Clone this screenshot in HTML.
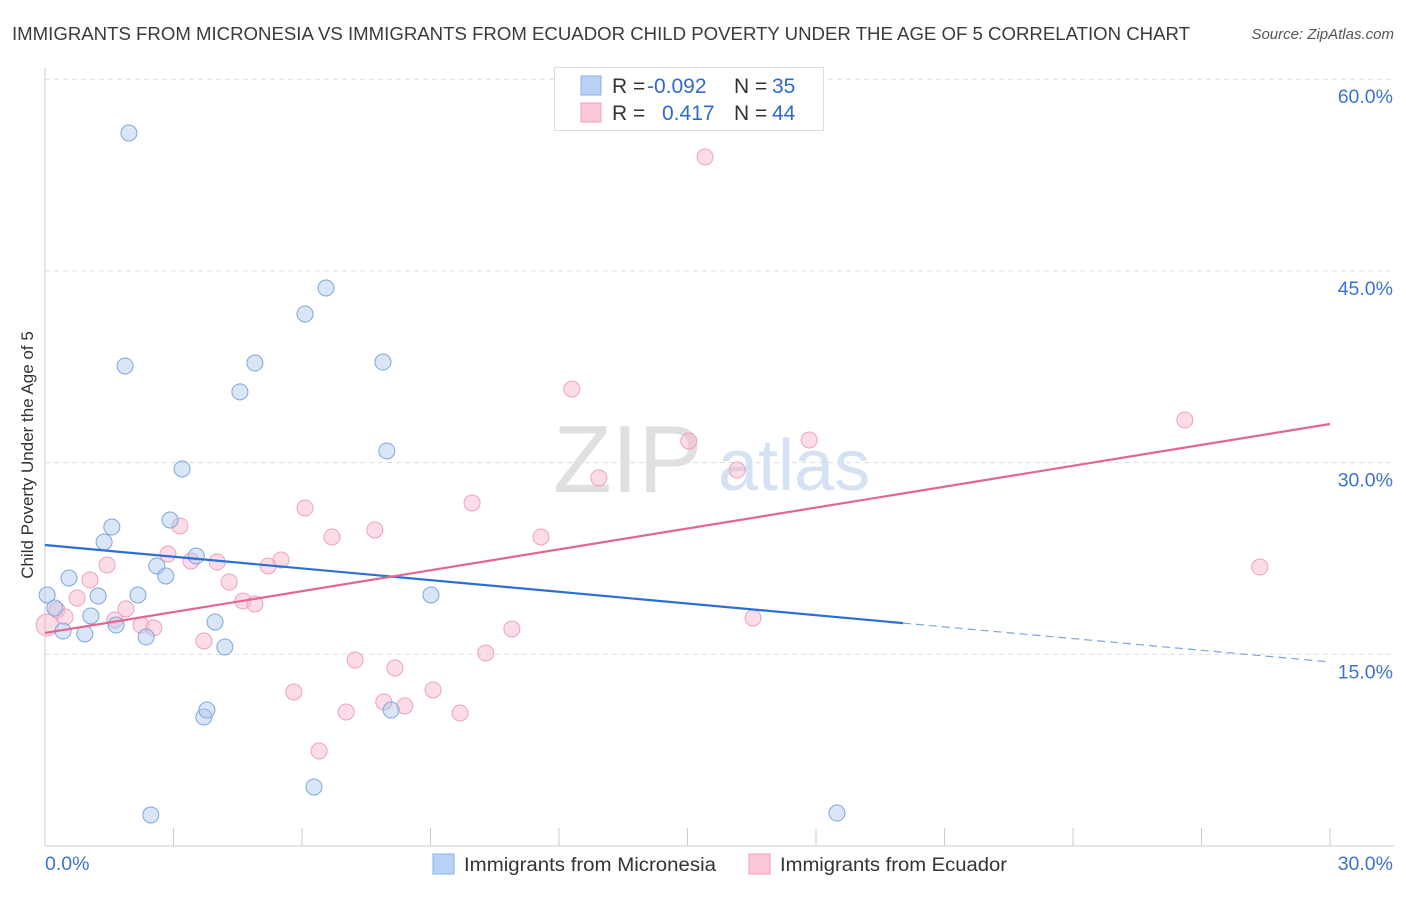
<!DOCTYPE html>
<html><head><meta charset="utf-8"><style>
body{margin:0;background:#fff;font-family:"Liberation Sans",sans-serif;}
svg text{font-family:"Liberation Sans",sans-serif;}
</style></head><body>
<svg id="chart" width="1406" height="892">
<text x="12" y="40" font-size="18" fill="#3a3a3a" textLength="1178" lengthAdjust="spacingAndGlyphs">IMMIGRANTS FROM MICRONESIA VS IMMIGRANTS FROM ECUADOR CHILD POVERTY UNDER THE AGE OF 5 CORRELATION CHART</text>
<text x="1394" y="39" font-size="15" fill="#555" text-anchor="end" font-style="italic">Source: ZipAtlas.com</text>
<text x="33" y="455" font-size="17" fill="#333" text-anchor="middle" transform="rotate(-90 33 455)">Child Poverty Under the Age of 5</text>
<g id="grid"></g>
<text x="553" y="492" font-size="96" fill="#e0e0e0" font-family="Liberation Serif">ZIP</text>
<text x="718" y="490" font-size="72" fill="#d4e2f4">atlas</text>
<g id="pts"></g>
<g id="lines"></g>
<g>
<rect x="554.5" y="67.5" width="269" height="63" fill="#fff" stroke="#ddd"/>
<rect x="581" y="76" width="20" height="19" fill="#b8d3f5" stroke="#8ab2e6"/>
<rect x="581" y="103" width="20" height="19" fill="#fcc8d7" stroke="#f0a0b8"/>
<text x="612" y="93" font-size="21" fill="#333">R = <tspan x="647" fill="#2d6bd0">-0.092</tspan><tspan x="734">N = </tspan><tspan x="772" fill="#2d6bd0">35</tspan></text>
<text x="612" y="120" font-size="21" fill="#333">R = <tspan x="662" fill="#2d6bd0">0.417</tspan><tspan x="734">N = </tspan><tspan x="772" fill="#2d6bd0">44</tspan></text>
</g>
<g>
<rect x="433" y="854" width="21" height="20" fill="#b8d3f5" stroke="#8ab2e6"/>
<text x="464" y="871" font-size="19" fill="#333" textLength="252" lengthAdjust="spacingAndGlyphs">Immigrants from Micronesia</text>
<rect x="749" y="854" width="21" height="20" fill="#fcc8d7" stroke="#f0a0b8"/>
<text x="780" y="871" font-size="19" fill="#333" textLength="227" lengthAdjust="spacingAndGlyphs">Immigrants from Ecuador</text>
</g>
</svg>
<script>
const xTicks=[0,30];
const yTicks=[15,30,45,60];
const blueX=[0.05,0.23,0.42,0.56,0.93,1.07,1.24,1.38,1.56,1.66,1.87,1.96,2.17,2.36,2.47,2.61,2.82,2.92,3.20,3.53,3.71,3.78,3.97,4.20,4.55,4.90,6.07,6.28,6.56,7.89,7.98,8.08,9.01,18.49];
const blueY=[19.64,18.62,16.82,20.97,16.59,18.0,19.56,23.79,24.96,17.29,37.56,55.79,19.64,16.35,2.43,21.91,21.13,25.51,29.50,22.69,10.09,10.64,17.53,15.57,35.53,37.79,41.63,4.62,43.66,37.87,30.91,10.64,19.64,2.58];
const pinkX=[0.05,0.28,0.47,0.75,1.05,1.45,1.63,1.89,2.24,2.54,2.87,3.15,3.41,3.71,4.02,4.30,4.62,4.90,5.21,5.51,5.81,6.07,6.40,6.70,7.03,7.24,7.70,7.91,8.17,8.40,9.06,9.69,9.97,10.29,10.90,11.58,12.30,12.93,15.03,15.41,16.16,16.53,17.84,26.61,28.36];
const pinkY=[17.29,18.47,17.92,19.41,20.81,21.99,17.68,18.55,17.29,17.06,22.85,25.04,22.30,16.04,22.22,20.66,19.17,18.94,21.91,22.38,12.05,26.45,7.43,24.18,10.49,14.55,24.73,11.27,13.93,10.96,12.21,10.41,26.84,15.10,16.98,24.18,35.76,28.80,31.69,53.91,29.42,17.84,31.77,33.33,21.83];
const blueTrend=[23.55,-0.305];
const pinkTrend=[16.67,0.545];
const blueSolidEnd=[20.03];
const sx=v=>45+v/30*1285;
const sy=v=>846-v/15*191.7;
const NS="http://www.w3.org/2000/svg";
function mk(t,a,p){const e=document.createElementNS(NS,t);for(const k in a)e.setAttribute(k,a[k]);p.appendChild(e);return e;}
const grid=document.getElementById('grid');
yTicks.forEach(t=>{
 const l=mk('line',{x1:45,x2:1394,y1:sy(t),y2:sy(t),stroke:'#ddd','stroke-dasharray':'5,4'},grid);
 
 
 const tx=mk('text',{x:1393,y:sy(t)+24,'font-size':19.5,fill:'#3d73d0','text-anchor':'end'},grid);
 tx.textContent=t.toFixed(1)+'%';
 
 
});
mk('line',{x1:45,x2:45,y1:68,y2:846,stroke:'#ccc'},grid);
mk('line',{x1:45,x2:1394,y1:846,y2:846,stroke:'#ccc'},grid);
for(let i=1;i<=10;i++){const x=sx(i*3);mk('line',{x1:x,x2:x,y1:828,y2:846,stroke:'#ccc'},grid);}
xTicks.forEach((t,i)=>{
 const tx=mk('text',{x:i?1393:45,y:870,'font-size':19.5,fill:'#3d73d0','text-anchor':i?'end':'start'},grid);
 tx.textContent=t.toFixed(1)+'%';
 
 
});
const pts=document.getElementById('pts');
pinkX.forEach((x,i)=>{
 const c=mk('circle',{cx:sx(x),cy:sy(pinkY[i]),r:i==0?11:8,fill:'rgba(248,180,202,0.45)',stroke:'#eea2bb','stroke-width':1},pts);
 
 
});
blueX.forEach((x,i)=>{
 const c=mk('circle',{cx:sx(x),cy:sy(blueY[i]),r:8,fill:'rgba(170,200,240,0.45)',stroke:'#7fa6da','stroke-width':1},pts);
 
 
});
const lines=document.getElementById('lines');
const bf=x=>blueTrend[0]+blueTrend[1]*x, pf=x=>pinkTrend[0]+pinkTrend[1]*x;
let l1=mk('line',{x1:sx(0),y1:sy(bf(0)),x2:sx(blueSolidEnd[0]),y2:sy(bf(blueSolidEnd[0])),stroke:'#2a6fd6','stroke-width':2.2},lines);


let l2=mk('line',{x1:sx(blueSolidEnd[0]),y1:sy(bf(blueSolidEnd[0])),x2:sx(30),y2:sy(bf(30)),stroke:'#7fa6da','stroke-width':1.2,'stroke-dasharray':'8,5'},lines);


let l3=mk('line',{x1:sx(0),y1:sy(pf(0)),x2:sx(30),y2:sy(pf(30)),stroke:'#e4668f','stroke-width':2.2},lines);


</script>
</body></html>
